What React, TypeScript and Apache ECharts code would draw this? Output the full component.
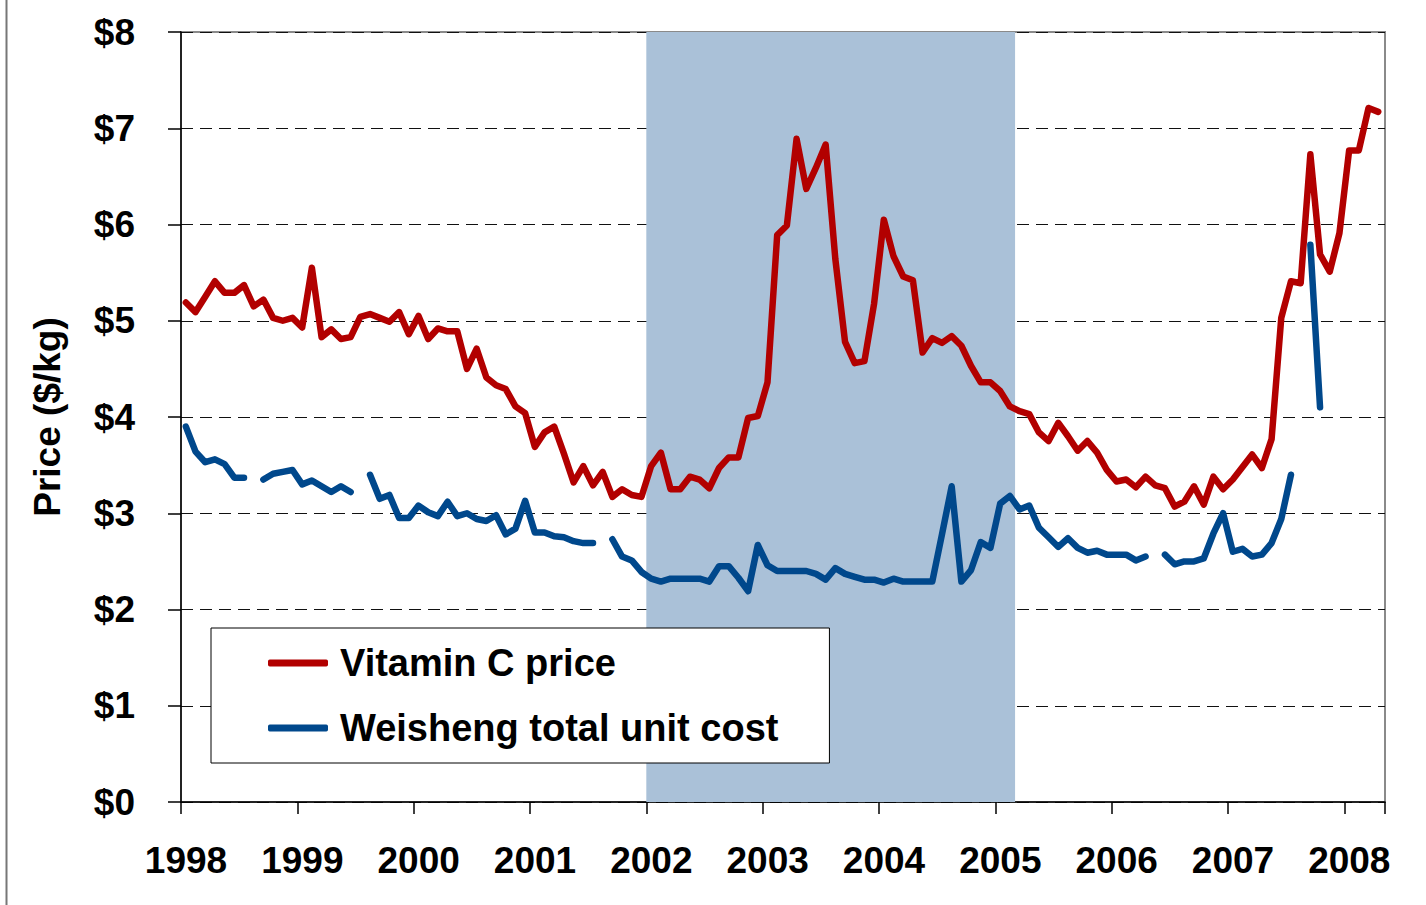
import React, { useEffect, useRef } from "react";
import * as echarts from "echarts";

// Monthly observations, Jan 1998 onward (one value per month)
const START_YEAR = 1998;
const vitaminCPrice: number[] = [
  5.19, 5.09, 5.25, 5.41, 5.29, 5.29, 5.37, 5.15, 5.22, 5.03, 5.0, 5.03,
  4.93, 5.55, 4.83, 4.91, 4.81, 4.83, 5.04, 5.07, 5.03, 4.99, 5.09, 4.86,
  5.05, 4.81, 4.92, 4.89, 4.89, 4.5, 4.71, 4.41, 4.33, 4.29, 4.11, 4.04,
  3.69, 3.84, 3.9, 3.62, 3.32, 3.49, 3.29, 3.43, 3.17, 3.25, 3.19, 3.17,
  3.49, 3.63, 3.25, 3.25, 3.38, 3.35, 3.26, 3.47, 3.58, 3.58, 3.99, 4.01,
  4.36, 5.89, 5.99, 6.89, 6.37, 6.59, 6.83, 5.64, 4.78, 4.56, 4.58, 5.18,
  6.05, 5.67, 5.46, 5.42, 4.67, 4.82, 4.77, 4.84, 4.74, 4.53, 4.36, 4.36,
  4.27, 4.11, 4.06, 4.03, 3.84, 3.75, 3.94, 3.8, 3.65, 3.75, 3.63, 3.45,
  3.33, 3.35, 3.27, 3.38, 3.29, 3.26, 3.07, 3.12, 3.28, 3.09, 3.38, 3.25,
  3.35, 3.48, 3.61, 3.47, 3.77, 5.03, 5.41, 5.39, 6.73, 5.69, 5.51, 5.91,
  6.77, 6.77, 7.21, 7.17,
];
const weishengUnitCost: (number | null)[] = [
  3.9, 3.64, 3.53, 3.56, 3.51, 3.37, 3.37, null, 3.35, 3.41, 3.43, 3.45,
  3.3, 3.34, 3.28, 3.22, 3.28, 3.22, null, 3.4, 3.15, 3.19, 2.95, 2.95,
  3.08, 3.01, 2.97, 3.12, 2.97, 3.0, 2.94, 2.92, 2.98, 2.78, 2.84, 3.13,
  2.8, 2.8, 2.76, 2.75, 2.71, 2.69, 2.69, null, 2.73, 2.55, 2.51, 2.39,
  2.32, 2.29, 2.32, 2.32, 2.32, 2.32, 2.29, 2.45, 2.45, 2.33, 2.19, 2.67,
  2.46, 2.4, 2.4, 2.4, 2.4, 2.37, 2.31, 2.43, 2.37, 2.34, 2.31, 2.31,
  2.28, 2.32, 2.29, 2.29, 2.29, 2.29, 2.78, 3.28, 2.29, 2.41, 2.7, 2.64,
  3.1, 3.18, 3.04, 3.08, 2.85, 2.75, 2.65, 2.74, 2.64, 2.59, 2.61, 2.57,
  2.57, 2.57, 2.51, 2.55, null, 2.57, 2.47, 2.5, 2.5, 2.53, 2.79, 3.0,
  2.6, 2.63, 2.55, 2.57, 2.69, 2.94, 3.4, null, 5.79, 4.1,
];
const shadedPeriod: [number, number] = [2002, 2005.17];
const yTicks = [0, 1, 2, 3, 4, 5, 6, 7, 8];
const seriesNames = ["Vitamin C price", "Weisheng total unit cost"];

const RED = "#B20000";
const BLUE = "#00488C";
const FONT = "'Liberation Sans', Arial, sans-serif";

const toPoints = (vals: (number | null)[]) =>
  vals.map((v, i) => [START_YEAR + (i + 0.5) / 12, v]);

export default function App() {
  const ref = useRef<HTMLDivElement>(null);
  useEffect(() => {
    if (!ref.current) return;
    const chart = echarts.init(ref.current, null, { renderer: "svg" });
    chart.setOption({
      animation: false,
      backgroundColor: "#fff",
      grid: {
        left: 181,
        right: 41,
        top: 32,
        bottom: 103,
        show: true,
        borderColor: "#8a8a8a",
        borderWidth: 2,
        backgroundColor: "transparent",
      },
      graphic: [
        {
          type: "line",
          shape: { x1: 6.5, y1: 0, x2: 6.5, y2: 905 },
          style: { stroke: "#777", lineWidth: 2 },
        },
      ],
      legend: {
        show: true,
        orient: "vertical",
        left: 211,
        top: 628,
        data: seriesNames,
        backgroundColor: "#fff",
        borderColor: "#000",
        borderWidth: 1,
        borderRadius: 0,
        padding: [16, 51, 16, 57],
        icon: "roundRect",
        itemWidth: 60,
        itemHeight: 7,
        itemGap: 27,
        selectedMode: false,
        textStyle: {
          fontFamily: FONT,
          fontWeight: "bold",
          fontSize: 38,
          color: "#000",
          padding: [0, 0, 0, 7],
        },
      },
      xAxis: {
        type: "value",
        min: 1998,
        max: 2008.35,
        interval: 1,
        axisLine: { show: true, onZero: false, lineStyle: { color: "#000", width: 1.5 } },
        axisTick: { show: true, length: 12, lineStyle: { color: "#000", width: 1.5 } },
        splitLine: { show: false },
        axisLabel: {
          margin: 40,
          fontFamily: FONT,
          fontWeight: "bold",
          fontSize: 37,
          color: "#000",
          padding: [0, 0, 0, 10],
          formatter: (v: number) => (Math.abs(v - Math.round(v)) < 1e-6 ? String(Math.round(v)) : ""),
        },
      },
      yAxis: {
        type: "value",
        min: yTicks[0],
        max: yTicks[yTicks.length - 1],
        interval: 1,
        name: "Price ($/kg)",
        nameLocation: "middle",
        nameRotate: 90,
        nameGap: 115,
        nameTextStyle: {
          fontFamily: FONT,
          fontWeight: "bold",
          fontSize: 37,
          color: "#000",
        },
        axisLine: { show: true, lineStyle: { color: "#000", width: 1.5 } },
        axisTick: { show: true, length: 13, lineStyle: { color: "#000", width: 1.5 } },
        splitLine: {
          show: true,
          lineStyle: { color: "#111", width: 1, type: [12, 7] },
        },
        axisLabel: {
          margin: 46,
          fontFamily: FONT,
          fontWeight: "bold",
          fontSize: 37,
          color: "#000",
          formatter: (v: number) => "$" + v,
        },
      },
      series: [
        {
          name: "shade",
          type: "line",
          data: [],
          silent: true,
          markArea: {
            silent: true,
            itemStyle: { color: "#AAC1D8", opacity: 1 },
            data: [[{ xAxis: shadedPeriod[0] }, { xAxis: shadedPeriod[1] }]],
          },
        },
        {
          name: seriesNames[0],
          type: "line",
          data: toPoints(vitaminCPrice),
          showSymbol: false,
          symbol: "none",
          connectNulls: false,
          color: RED,
          lineStyle: { color: RED, width: 6.5, cap: "round", join: "round" },
        },
        {
          name: seriesNames[1],
          type: "line",
          data: toPoints(weishengUnitCost),
          showSymbol: false,
          symbol: "none",
          connectNulls: false,
          color: BLUE,
          lineStyle: { color: BLUE, width: 6.5, cap: "round", join: "round" },
        },
      ],
    });
    return () => chart.dispose();
  }, []);
  return (
    <div
      ref={ref}
      style={{ position: "absolute", left: 0, top: 0, width: 1426, height: 905 }}
    />
  );
}
